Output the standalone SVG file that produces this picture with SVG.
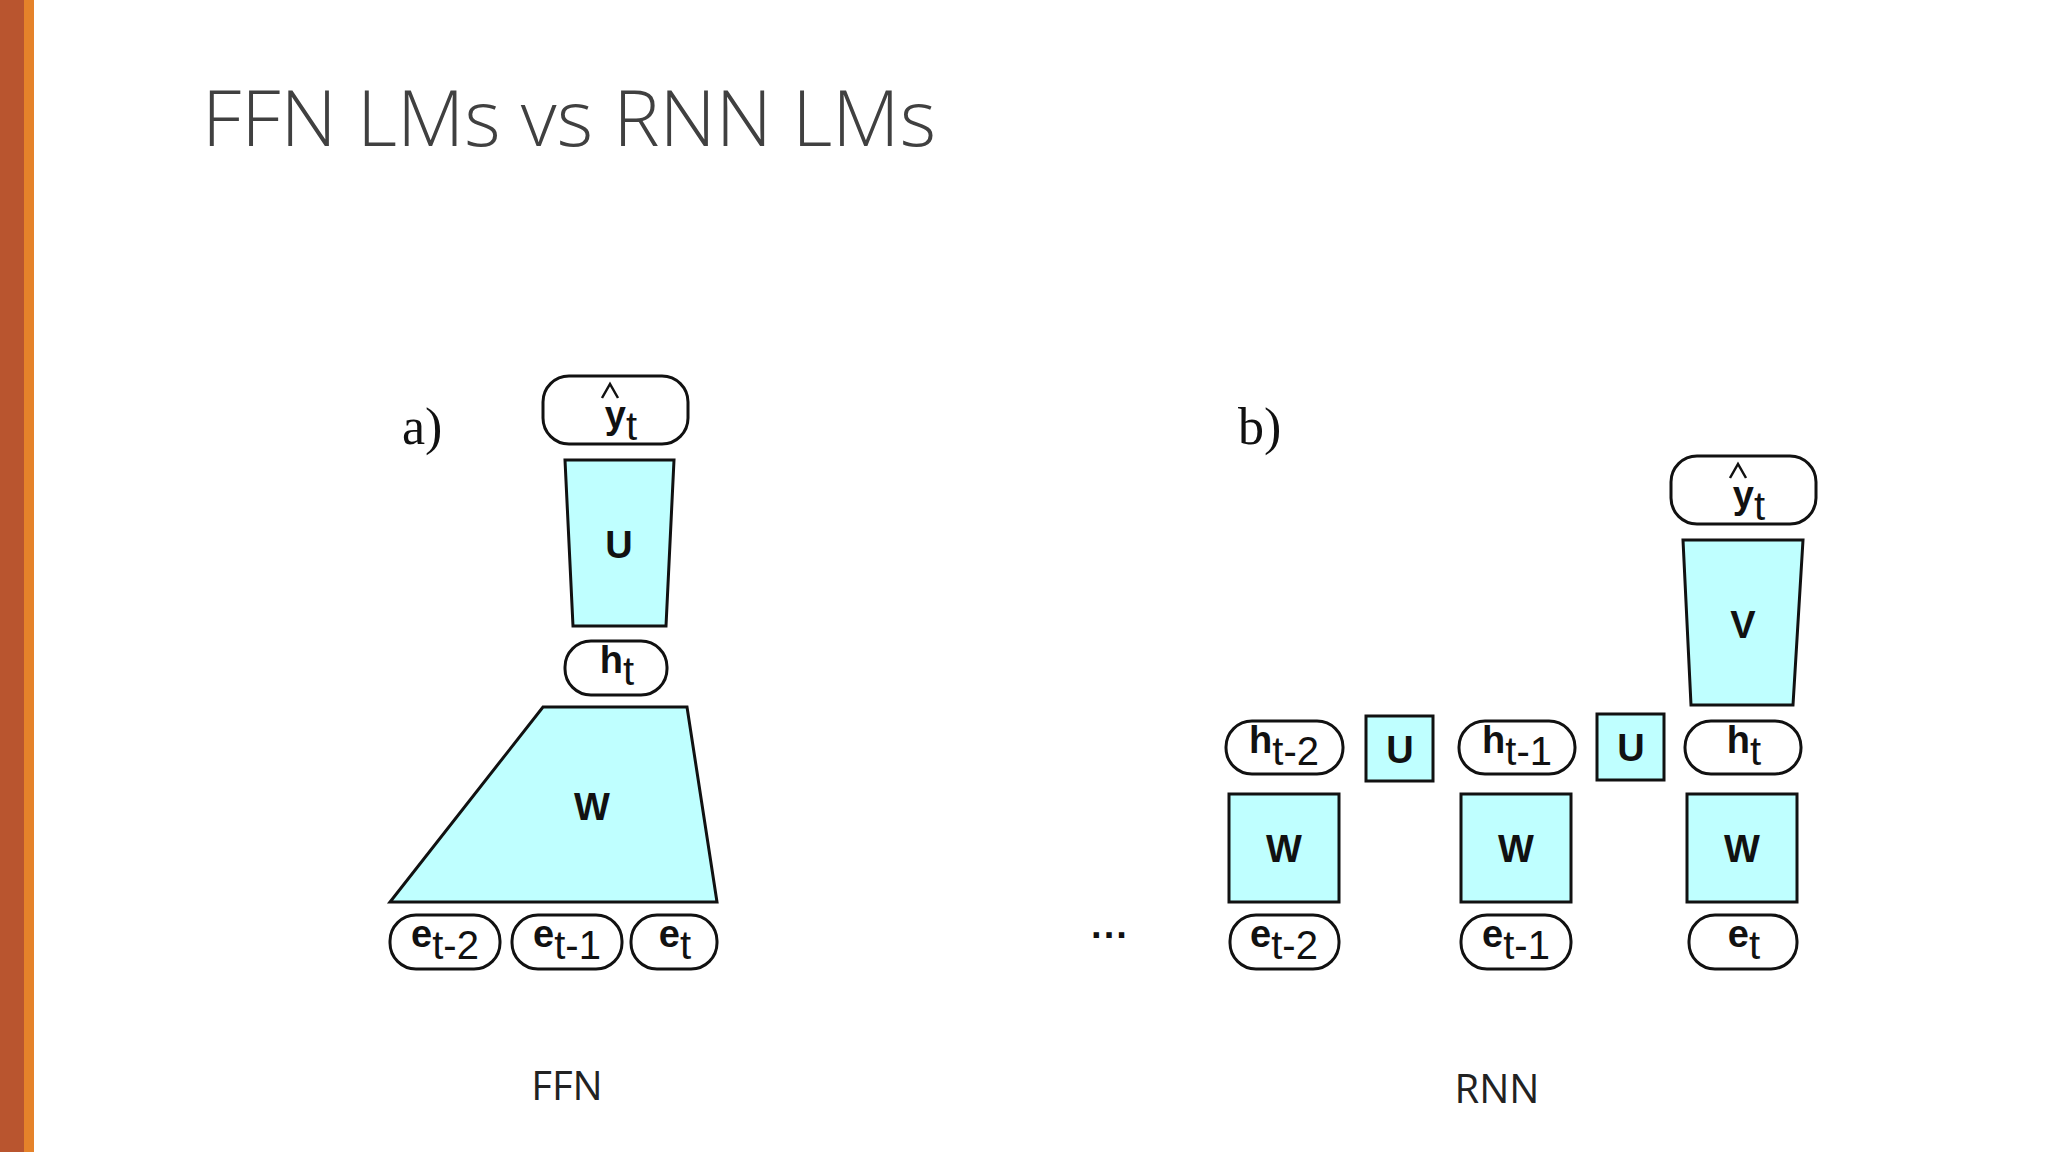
<svg xmlns="http://www.w3.org/2000/svg" width="2048" height="1152" viewBox="0 0 2048 1152">
<style>
.sh{fill:#BFFFFF;stroke:#111;stroke-width:3}
.bx{fill:#fff;stroke:#111;stroke-width:3}
.hat{fill:none;stroke:#111;stroke-width:2.5}
.lb{font-family:"Liberation Sans",Arial,sans-serif;font-weight:bold;font-size:38px;fill:#111;text-anchor:middle}
.sb{font-weight:normal;font-size:40px}
.cap{font-family:"Open Sans",sans-serif;font-size:40px;fill:#222;text-anchor:middle}
.ab{font-family:"Liberation Serif",serif;font-size:52px;fill:#111}
</style>
<rect width="2048" height="1152" fill="#fff"/>
<rect x="0" y="0" width="24" height="1152" fill="#B9552F"/>
<rect x="24" y="0" width="10" height="1152" fill="#E5822A"/>
<text x="202" y="146" font-family="'Open Sans',sans-serif" font-weight="300" font-size="78" fill="#404040">FFN LMs vs RNN LMs</text>
<text class="ab" x="402" y="444">a)</text>
<text class="ab" x="1238" y="444">b)</text>
<g id="connectors"/>
<g id="ffn">
 <g id="ffn-yhat"><rect class="bx" x="543" y="376" width="145" height="68" rx="26"/><polyline class="hat" points="602,398 610,384 618,398"/><text class="lb" x="621" y="428">y<tspan class="sb" dy="12">t</tspan></text></g>
 <g id="ffn-U"><polygon class="sh" points="565,460 674,460 666,626 573,626"/><text class="lb" x="619" y="558">U</text></g>
 <g id="ffn-h"><rect class="bx" x="565" y="641" width="102" height="54" rx="26"/><text class="lb" x="617" y="673">h<tspan class="sb" dy="12">t</tspan></text></g>
 <g id="ffn-W"><polygon class="sh" points="543,707 687,707 717,902 390,902"/><text class="lb" x="592" y="820">W</text></g>
 <g id="ffn-e2"><rect class="bx" x="390" y="915" width="110" height="54" rx="26"/><text class="lb" x="445" y="947">e<tspan class="sb" dy="12">t-2</tspan></text></g>
 <g id="ffn-e1"><rect class="bx" x="512" y="915" width="110" height="54" rx="26"/><text class="lb" x="567" y="947">e<tspan class="sb" dy="12">t-1</tspan></text></g>
 <g id="ffn-e0"><rect class="bx" x="631" y="915" width="86" height="54" rx="26"/><text class="lb" x="675" y="947">e<tspan class="sb" dy="12">t</tspan></text></g>
 <text class="cap" x="567" y="1100">FFN</text>
</g>
<g id="rnn">
 <g id="rnn-h2"><rect class="bx" x="1226" y="721" width="117" height="53" rx="26"/><text class="lb" x="1284" y="753">h<tspan class="sb" dy="12">t-2</tspan></text></g>
 <g id="rnn-U1"><rect class="sh" x="1366" y="716" width="67" height="65"/><text class="lb" x="1400" y="763">U</text></g>
 <g id="rnn-h1"><rect class="bx" x="1459" y="721" width="116" height="53" rx="26"/><text class="lb" x="1517" y="753">h<tspan class="sb" dy="12">t-1</tspan></text></g>
 <g id="rnn-U2"><rect class="sh" x="1597" y="714" width="67" height="66"/><text class="lb" x="1631" y="761">U</text></g>
 <g id="rnn-h0"><rect class="bx" x="1685" y="721" width="116" height="53" rx="26"/><text class="lb" x="1744" y="753">h<tspan class="sb" dy="12">t</tspan></text></g>
 <g id="rnn-W2"><rect class="sh" x="1229" y="794" width="110" height="108"/><text class="lb" x="1284" y="862">W</text></g>
 <g id="rnn-W1"><rect class="sh" x="1461" y="794" width="110" height="108"/><text class="lb" x="1516" y="862">W</text></g>
 <g id="rnn-W0"><rect class="sh" x="1687" y="794" width="110" height="108"/><text class="lb" x="1742" y="862">W</text></g>
 <g id="rnn-e2"><rect class="bx" x="1230" y="915" width="109" height="54" rx="26"/><text class="lb" x="1284" y="947">e<tspan class="sb" dy="12">t-2</tspan></text></g>
 <g id="rnn-e1"><rect class="bx" x="1461" y="915" width="110" height="54" rx="26"/><text class="lb" x="1516" y="947">e<tspan class="sb" dy="12">t-1</tspan></text></g>
 <g id="rnn-e0"><rect class="bx" x="1689" y="915" width="108" height="54" rx="26"/><text class="lb" x="1744" y="947">e<tspan class="sb" dy="12">t</tspan></text></g>
 <g id="rnn-V"><polygon class="sh" points="1683,540 1803,540 1793,705 1691,705"/><text class="lb" x="1743" y="638">V</text></g>
 <g id="rnn-yhat"><rect class="bx" x="1671" y="456" width="145" height="68" rx="26"/><polyline class="hat" points="1730,478 1738,464 1746,478"/><text class="lb" x="1749" y="508">y<tspan class="sb" dy="12">t</tspan></text></g>
 <text class="lb" x="1110" y="948" font-size="56">···</text>
 <text class="cap" x="1497" y="1103">RNN</text>
</g>
</svg>
